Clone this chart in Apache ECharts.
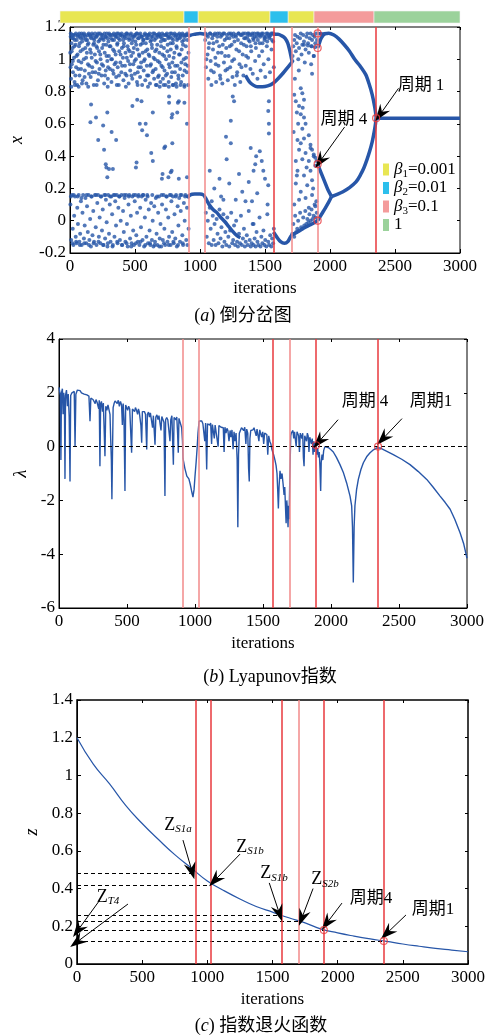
<!DOCTYPE html>
<html>
<head>
<meta charset="utf-8">
<script src="https://cdn.jsdelivr.net/npm/echarts@6/dist/echarts.min.js"></script>
<style>
  html, body { margin: 0; padding: 0; background: #fff; }
  #chart { width: 488px; height: 1035px; }
</style>
</head>
<body>
<div id="chart"></div>
<script>
// ---------- data (a) bifurcation ----------
const xTicks = [0, 500, 1000, 1500, 2000, 2500, 3000];

// annealing stages shown in the top colour bar: [start, end]
const stageB1 = [[0, 930], [1035, 1575], [1710, 1905]];
const stageB2 = [[930, 1035], [1575, 1710]];
const stageB3 = [[1905, 2355]];
const stageOne = [[2355, 3000]];

const upperA = [[2,1.04],[5,1.14],[8,0.88],[11,1.1],[14,0.97],[17,1.15],[20,1.07],[23,0.92],[27,1.13],[31,1.01],[35,0.86],[39,1.15],[43,1.09],[47,0.95],
  [52,1.12],[55,0.84],[58,1.03],[62,1.15],[66,0.99],[69,1.08],[73,0.9],[77,1.14],[81,1.05],[85,0.94],[89,1.16],[93,1.11],[97,0.87],
  [102,1.13],[106,1.0],[110,1.15],[114,0.93],[118,1.07],[122,1.12],[126,0.85],[130,1.04],[134,1.15],[138,0.97],[142,1.1],[146,0.91],
  [151,1.15],[155,1.06],[159,0.89],[163,1.13],[167,1.01],[171,0.95],[175,1.15],[179,1.09],[183,0.84],[187,1.12],[191,1.03],[195,0.92],[199,1.14],
  [203,1.08],[207,0.98],[211,1.15],[215,0.87],[219,1.11],[223,1.05],[227,0.94],[231,1.16],[235,1.0],[239,1.13],[243,0.9],[247,1.07],
  [251,1.15],[255,0.96],[259,1.12],[263,0.85],[267,1.04],[271,1.14],[275,0.93],[279,1.09],[283,1.16],[287,0.99],[291,0.88],[295,1.11],[299,1.02],
  [303,1.15],[307,0.94],[311,1.08],[315,1.13],[319,0.86],[323,1.0],[327,1.15],[331,1.06],[335,0.91],[339,1.12],[343,0.97],[347,1.15],
  [351,1.03],[355,0.89],[359,1.14],[363,1.09],[367,0.95],[371,1.16],[375,0.84],[379,1.05],[383,1.12],[387,0.98],[391,1.15],[395,0.92],[399,1.07],
  [403,1.14],[407,1.01],[411,0.87],[415,1.1],[419,1.15],[423,0.96],[427,1.04],[431,1.13],[435,0.9],[439,1.16],[443,1.08],[447,0.99],
  [451,0.85],[455,1.12],[459,1.05],[463,0.93],[467,1.15],[471,1.02],[475,1.1],[479,0.88],[483,1.14],[487,0.97],[491,1.07],[495,1.15],[499,0.91],
  [503,1.11],[507,1.0],[511,1.16],[515,0.86],[519,1.06],[523,1.13],[527,0.95],[531,1.03],[535,1.15],[539,0.89],[543,1.09],[547,0.98],
  [551,1.14],[555,0.84],[559,1.04],[563,1.12],[567,0.93],[571,1.15],[575,1.0],[579,0.87],[583,1.1],[587,1.15],[591,0.96],[595,1.06],[599,1.13],
  [603,0.9],[607,1.15],[611,1.02],[615,0.85],[619,1.11],[623,0.97],[627,1.14],[631,1.07],[635,0.92],[639,1.16],[643,1.01],[647,0.88],
  [651,1.12],[655,1.05],[659,0.94],[663,1.15],[667,0.84],[671,1.09],[675,0.99],[679,1.14],[683,0.9],[687,1.04],[691,1.15],[695,0.86],[699,1.11],
  [703,0.96],[707,1.13],[711,1.03],[715,0.88],[719,1.15],[723,1.07],[727,0.93],[731,1.12],[735,0.84],[739,1.0],[743,1.15],[747,0.91],
  [751,1.09],[755,1.14],[759,0.86],[763,1.02],[767,0.95],[771,1.16],[775,1.06],[779,0.89],[783,1.13],[787,0.98],[791,1.1],[795,0.84],[799,1.15],
  [803,1.04],[807,0.92],[811,1.14],[815,0.85],[819,1.08],[823,1.12],[827,0.96],[831,1.15],[835,0.88],[839,1.03],[843,1.13],[847,0.94],
  [851,1.15],[855,0.86],[859,1.06],[863,1.11],[867,0.9],[871,1.15],[875,1.0],[879,0.84],[883,1.14],[887,0.97],[891,1.08],[895,1.15],[899,0.92],[903,1.12],[907,1.15],[911,1.04]];

const upperA2 = [[4,0.95],[13,1.05],[22,0.99],[33,1.08],[41,0.9],[50,1.02],[64,0.94],[75,1.1],[87,0.98],[99,1.06],[112,0.89],[124,1.01],[136,1.09],[148,0.96],
  [161,1.04],[173,0.92],[185,1.1],[197,0.99],[209,1.07],[221,0.91],[233,1.03],[245,0.97],[257,1.09],[269,0.9],[281,1.02],[293,0.95],[305,1.08],[317,1.0],
  [329,0.93],[341,1.05],[353,0.98],[365,1.1],[377,0.9],[389,1.03],[401,0.96],[413,1.08],[425,0.91],[437,1.01],[449,1.06],[461,0.97],[473,0.9],[485,1.04],
  [497,0.99],[509,1.09],[521,0.92],[533,1.02],[545,0.95],[557,1.1],[569,0.99],[581,1.05],[593,0.9],[605,1.03],[617,0.96],[629,1.09],[641,0.93],[653,1.0],
  [665,1.06],[677,0.89],[689,0.98],[701,1.08],[713,0.95],[725,1.02],[737,0.9],[749,1.05],[761,0.97],[773,1.1],[785,0.92],[797,1.01],[809,0.96],[821,1.07],
  [833,0.9],[845,1.03],[857,0.98],[869,1.09],[881,0.93],[893,1.01],[905,0.96],
  [10,0.83],[38,0.84],[67,0.83],[92,0.85],[140,0.83],[205,0.84],[290,0.83],[360,0.84],[430,0.83],[520,0.84],[600,0.83],[660,0.84],[690,0.83],[720,0.84],
  [760,0.83],[790,0.84],[820,0.83],[850,0.84],[880,0.83],[908,0.84]];

const topA = [[6,1.16],[16,1.13],[25,1.15],[36,1.12],[45,1.16],[60,1.14],[71,1.16],[83,1.13],[95,1.15],[108,1.16],[120,1.14],[132,1.12],[144,1.16],[157,1.14],
  [169,1.16],[181,1.13],[193,1.16],[205,1.14],[217,1.16],[229,1.12],[241,1.15],[253,1.13],[265,1.16],[277,1.14],[289,1.13],[301,1.16],[313,1.15],[325,1.12],
  [337,1.16],[349,1.14],[361,1.16],[373,1.13],[385,1.15],[397,1.16],[409,1.12],[421,1.14],[433,1.16],[445,1.15],[457,1.13],[469,1.16],[481,1.12],[493,1.14],
  [505,1.15],[517,1.16],[529,1.13],[541,1.16],[553,1.14],[565,1.12],[577,1.16],[589,1.13],[601,1.15],[613,1.16],[625,1.12],[637,1.14],[649,1.16],[661,1.13],
  [673,1.15],[685,1.16],[697,1.14],[709,1.16],[721,1.12],[733,1.15],[745,1.16],[757,1.13],[769,1.14],[781,1.16],[793,1.12],[805,1.16],[817,1.15],[829,1.13],
  [841,1.16],[853,1.14],[865,1.16],[877,1.12],[889,1.15],[901,1.16]];

const lowerA = [[3,0.1],[9,-0.12],[15,0.16],[21,-0.05],[26,-0.15],[32,0.03],[38,0.15],[44,-0.1],[50,-0.14],[56,0.08],[61,-0.02],[67,0.16],[72,-0.13],[78,-0.08],
  [84,0.12],[90,-0.15],[96,0.05],[101,0.16],[107,-0.11],[113,-0.03],[119,0.14],[125,-0.14],[131,0.09],[137,-0.07],[143,0.16],[149,-0.12],[155,0.01],[161,-0.16],
  [167,0.15],[173,-0.09],[179,0.06],[185,-0.13],[192,0.16],[198,-0.04],[204,-0.15],[210,0.11],[216,0.16],[222,-0.1],[228,0.02],[234,-0.14],[240,0.15],[246,-0.06],
  [252,0.07],[258,-0.15],[264,0.16],[270,-0.11],[276,0.13],[282,-0.01],[288,-0.16],[294,0.16],[300,-0.08],[306,0.1],[312,-0.13],[318,0.15],[324,0.04],[330,-0.15],
  [336,0.16],[342,-0.1],[348,0.12],[354,-0.03],[360,0.16],[366,-0.14],[372,0.08],[378,0.15],[384,-0.12],[390,0.0],[396,0.16],[402,-0.15],[408,0.06],[414,-0.07],
  [420,0.14],[426,-0.13],[432,0.16],[438,-0.02],[444,-0.16],[450,0.1],[456,0.16],[462,-0.11],[468,0.03],[474,-0.14],[480,0.15],[486,-0.06],[492,-0.15],[498,0.12],
  [504,0.16],[510,-0.09],[516,0.05],[522,-0.13],[528,0.16],[534,-0.15],[540,0.08],[546,-0.04],[552,0.15],[558,-0.12],[564,0.16],[570,-0.16],[576,0.02],[582,0.13],
  [588,-0.1],[594,0.16],[600,-0.14],[606,0.07],[612,-0.06],[618,-0.15],[624,0.11],[630,-0.12],[636,0.0],[642,-0.16],[648,0.09],[654,-0.13],[660,0.14],[666,-0.08],
  [672,-0.15],[678,0.05],[684,0.15],[690,-0.11],[696,-0.02],[702,-0.16],[708,0.1],[714,-0.12],[720,0.16],[726,-0.05],[732,-0.15],[738,0.07],[744,0.15],[750,-0.13],
  [756,0.02],[762,-0.1],[768,0.16],[774,-0.15],[780,0.12],[786,-0.07],[792,0.15],[798,-0.14],[804,0.04],[810,-0.11],[816,0.16],[822,-0.16],[828,0.09],[834,-0.03],
  [840,0.14],[846,-0.13],[852,0.06],[858,0.16],[864,-0.09],[870,-0.15],[876,0.11],[882,0.0],[888,0.16],[894,-0.12],[900,0.08],[906,0.15],[912,-0.05]];

const lowerA2 = [[7,0.15],[19,-0.14],[29,0.16],[47,-0.13],[58,0.15],[76,-0.15],[88,0.14],[110,-0.14],[128,0.16],[146,-0.15],[164,0.15],[182,-0.14],[200,0.16],
  [219,-0.13],[237,0.15],[255,-0.15],[273,0.16],[291,-0.14],[309,0.15],[327,-0.16],[345,0.16],[363,-0.13],[381,0.15],[399,-0.15],[417,0.16],[435,-0.14],
  [453,0.15],[471,-0.16],[489,0.16],[507,-0.14],[525,0.15],[543,-0.13],[561,0.16],[579,-0.15],[597,0.15],[615,-0.14],[633,0.16],[651,-0.15],[669,0.15],
  [687,-0.16],[705,0.16],[723,-0.14],[741,0.15],[759,-0.15],[777,0.16],[795,-0.13],[813,0.15],[831,-0.15],[849,0.16],[867,-0.14],[885,0.15],[903,-0.15]];

const midA = [[162,0.72],[287,0.67],[157,0.61],[200,0.64],[255,0.59],[217,0.5],[320,0.55],[355,0.5],[262,0.44],[280,0.33],[330,0.32],[287,0.27],[275,0.35],
  [300,0.32],[480,0.71],[517,0.75],[550,0.74],[537,0.6],[582,0.6],[555,0.56],[592,0.53],[637,0.67],[625,0.42],[637,0.37],[512,0.36],[507,0.33],[762,0.77],
  [762,0.73],[787,0.66],[782,0.64],[830,0.73],[787,0.48],[732,0.46],[782,0.31],[707,0.26],[757,0.27],[837,0.26],[900,0.27],[712,0.29],[775,0.3],[725,0.45],
  [900,0.6],[880,0.73],[837,0.74],[825,0.67]];

const upperC = [[1040,1.12],[1046,0.95],[1052,1.15],[1058,1.03],[1064,0.88],[1070,1.1],[1076,1.16],[1082,0.99],[1088,0.84],[1094,1.13],[1100,1.06],[1106,0.92],
  [1112,1.15],[1118,1.01],[1124,0.86],[1130,1.11],[1136,1.16],[1142,0.96],[1148,1.08],[1154,0.9],[1160,1.14],[1166,1.04],[1172,0.85],[1178,1.16],[1184,0.98],
  [1190,1.12],[1196,0.93],[1202,1.07],[1208,1.15],[1214,0.87],[1220,1.02],[1226,1.13],[1232,0.95],[1238,1.16],[1244,1.09],[1250,0.89],[1256,1.14],[1262,1.0],
  [1268,0.84],[1274,1.15],[1280,1.06],[1286,0.92],[1292,1.12],[1298,1.16],[1304,0.97],[1310,0.86],[1316,1.1],[1322,1.15],[1328,1.03],[1334,0.9],[1340,1.13],
  [1346,1.16],[1352,0.96],[1358,1.08],[1364,1.14],[1370,1.01],[1376,1.16],[1382,1.11],[1388,0.94],[1394,1.05],[1400,1.15],[1406,0.91],[1412,1.12],[1418,1.16],
  [1424,0.99],[1430,1.07],[1436,1.14],[1442,0.88],[1448,1.16],[1454,1.02],[1460,1.1],[1466,0.93],[1472,1.15],[1478,1.05],[1484,1.16],[1490,0.97],[1496,1.12],
  [1502,0.89],[1508,1.14],[1514,1.08],[1520,1.16],[1526,1.0],[1532,1.13],[1538,0.92],[1544,1.15],[1550,1.06],[1556,1.16],[1562,1.11],[1568,0.95],
  [1043,1.16],[1061,1.14],[1079,1.16],[1097,1.15],[1115,1.16],[1133,1.14],[1151,1.16],[1169,1.15],[1187,1.16],[1205,1.13],[1223,1.16],[1241,1.15],[1259,1.16],
  [1277,1.14],[1295,1.16],[1313,1.15],[1331,1.16],[1349,1.13],[1367,1.16],[1385,1.15],[1403,1.16],[1421,1.14],[1439,1.16],[1457,1.15],[1475,1.16],[1493,1.14],
  [1511,1.16],[1529,1.15],[1547,1.16],[1565,1.16],
  [1049,1.0],[1067,1.07],[1085,0.93],[1103,1.1],[1121,0.97],[1139,1.04],[1157,0.88],[1175,1.09],[1193,1.02],[1211,0.94],[1229,1.08],[1247,0.99],[1265,1.11],
  [1283,0.9],[1301,1.05],[1319,0.95],[1337,1.09],[1355,1.02],[1373,1.12],[1391,1.08],[1409,1.13],[1427,1.1],[1445,1.12],[1463,1.14],[1481,1.1],[1499,1.13],
  [1517,1.11],[1535,1.14],[1553,1.12]];

const lowerC = [[1045,0.05],[1052,-0.1],[1060,0.0],[1068,-0.14],[1075,0.08],[1082,-0.05],[1090,-0.15],[1098,0.03],[1105,-0.12],[1112,-0.02],[1120,-0.15],
  [1128,0.01],[1135,-0.08],[1142,-0.14],[1150,0.07],[1158,-0.11],[1165,-0.04],[1172,-0.16],[1180,0.04],[1188,-0.13],[1195,-0.07],[1202,-0.15],[1210,0.02],
  [1218,-0.1],[1225,-0.16],[1232,-0.06],[1240,0.05],[1248,-0.14],[1255,-0.12],[1262,-0.03],[1270,-0.15],[1278,0.0],[1285,-0.13],[1292,-0.16],[1300,-0.08],
  [1308,-0.14],[1315,0.03],[1322,-0.15],[1330,-0.11],[1338,-0.05],[1345,-0.16],[1352,-0.13],[1360,-0.09],[1368,-0.15],[1375,0.06],[1382,-0.12],[1390,-0.16],
  [1398,-0.14],[1405,-0.02],[1412,-0.15],[1420,-0.11],[1428,-0.16],[1435,-0.07],[1442,-0.13],[1450,-0.15],[1458,0.02],[1465,-0.16],[1472,-0.1],[1480,-0.14],
  [1488,-0.06],[1495,-0.15],[1502,-0.12],[1510,-0.16],[1518,0.04],[1525,-0.13],[1532,-0.15],[1540,-0.09],[1548,-0.16],[1555,-0.11],[1562,-0.14],[1568,-0.05]];

const midC = [[1075,0.31],[1237,0.62],[1200,0.52],[1237,0.48],[1205,0.38],[1225,0.23],[1162,0.15],[1275,0.13],[1325,0.18],[1350,0.12],[1375,0.24],[1425,0.35],
  [1432,0.4],[1412,0.31],[1475,0.37],[1487,0.31],[1500,0.26],[1525,0.68],[1530,0.6],[1530,0.54],[1525,0.22],[1412,-0.02],[1110,0.2],[1150,0.26],[1300,0.29],
  [1390,0.45],[1460,0.43],[1400,0.12],[1440,0.17],[1520,0.1],[1180,0.13],[1090,0.12],[1252,0.77],[1262,0.74],[1530,0.74]];

const chaosD = [[1712,1.02],[1718,1.08],[1725,1.12],[1731,1.15],[1737,1.05],[1744,1.1],[1750,1.14],[1756,1.0],[1762,1.07],[1769,1.13],[1775,1.16],[1781,1.03],
  [1787,1.09],[1794,1.15],[1800,1.11],[1806,0.98],[1812,1.06],[1819,1.14],[1825,1.16],[1831,1.1],[1837,1.04],[1844,1.13],[1850,1.16],[1856,1.08],[1862,1.12],
  [1869,1.15],[1875,1.02],[1881,1.14],[1887,1.1],[1894,1.16],[1900,1.12],[1855,0.97],[1862,0.91],[1875,1.02],[1800,1.09],[1830,1.085],[1860,1.08],[1885,1.075],
  [1725,0.78],[1737,0.74],[1775,0.82],[1787,0.79],[1800,0.75],[1762,0.71],[1745,0.67],[1775,0.66],[1800,0.64],[1755,0.6],[1787,0.57],[1812,0.6],[1750,0.5],
  [1775,0.48],[1800,0.51],[1837,0.53],[1762,0.44],[1812,0.42],[1850,0.45],[1737,0.37],[1787,0.38],[1837,0.37],[1875,0.4],[1750,0.31],[1800,0.28],[1850,0.31],
  [1887,0.34],[1737,0.23],[1775,0.18],[1825,0.22],[1862,0.25],[1762,0.13],[1812,0.14],[1862,0.16],[1725,0.1],[1837,0.08],[1887,0.09],[1730,0.88],[1760,0.93],
  [1850,0.47],[1862,0.44],[1875,0.41],[1887,0.39],[1897,0.37],[1720,0.55],[1745,0.28],[1790,0.7],[1820,0.33],[1870,0.2],[1895,0.12],
  [1710,-0.08],[1718,-0.02],[1725,-0.1],[1732,0.03],[1740,-0.07],[1748,-0.05],[1755,0.0],[1762,-0.06],[1770,0.05],[1778,-0.04],[1786,-0.05],[1794,0.02],
  [1802,-0.03],[1810,0.06],[1818,-0.02],[1826,0.01],[1834,-0.01],[1842,0.04],[1850,0.0],[1858,0.07],[1866,0.01],[1874,0.03],[1882,0.1],[1890,0.02],[1898,0.05]];

// continuous branches of panel (a)
const stableUpperB = [[905,1.14],[930,1.15],[960,1.155],[1000,1.16],[1038,1.155]];
const stableLowerB = [[903,0.14],[925,0.16],[960,0.165],[1000,0.165],[1025,0.16],[1040,0.145]];
const arcLowerC = [[1040,0.145],[1070,0.1],[1100,0.07],[1130,0.05],[1160,0.02],[1190,-0.005],[1220,-0.035],[1250,-0.065],[1280,-0.09],[1310,-0.105]];
const uCurveC = [[1350,0.9],[1380,0.86],[1410,0.84],[1440,0.83],[1480,0.83],[1520,0.835],[1560,0.85],[1600,0.88],[1640,0.915],[1675,0.95],[1705,0.98],[1715,0.995]];
const upperCurveC = [[1560,1.155],[1600,1.155],[1630,1.145],[1655,1.13],[1675,1.1],[1692,1.05],[1705,1.0],[1712,0.98]];
const dipCurve = [[1565,-0.07],[1590,-0.1],[1620,-0.13],[1650,-0.14],[1675,-0.13],[1705,-0.09],[1750,-0.07],[1800,-0.045],[1850,-0.025],[1905,0.0]];
const branchTop = [[1905,1.16],[1930,1.158],[1955,1.156]];
const branchSecond = [[1905,1.07],[1918,1.1],[1932,1.13],[1948,1.15],[1960,1.158]];
const upperMain = [[1955,1.158],[1990,1.162],[2030,1.15],[2070,1.125],[2110,1.09],[2150,1.05],[2190,1.0],[2230,0.96],[2275,0.905],[2300,0.85],[2325,0.78],[2345,0.7],[2355,0.64]];
const branch035 = [[1905,0.35],[1930,0.3],[1955,0.25],[1985,0.19],[2012,0.15]];
const branch000 = [[1905,0.0],[1935,0.04],[1965,0.08],[1990,0.115],[2012,0.15]];
const lowerMain = [[2012,0.15],[2060,0.165],[2100,0.18],[2150,0.205],[2200,0.24],[2235,0.285],[2262,0.33],[2285,0.38],[2305,0.43],[2325,0.49],[2340,0.55],[2350,0.6],[2355,0.64]];
const fixedPoint = [[2355,0.635],[3000,0.635]];
const periodPtsA = [[1905,1.16],[1905,1.07],[1905,0.35],[1905,0.0],[2355,0.635]];
const redLinesA = [915, 1035, 1570, 1705, 1905, 2355];

// ---------- data (b) Lyapunov exponent ----------
const lyap = [[0,2.2],[5,2.25],[10,1.9],[14,-0.5],[18,2.0],[25,2.15],[30,1.2],[35,2.0],[40,1.6],[44,-1.2],[48,1.9],[55,2.1],[62,1.5],[68,1.95],[75,1.1],[81,-1.3],
  [86,1.9],[95,2.0],[105,1.95],[112,2.05],[118,0.0],[124,1.95],[135,2.1],[145,2.05],[155,2.08],[165,2.0],[175,2.02],[185,1.95],[195,1.9],[205,1.92],[212,1.85],
  [220,1.88],[228,0.94],[234,1.8],[242,1.85],[250,1.75],[258,1.8],[266,1.6],[272,1.75],[280,1.65],[286,1.7],[292,1.4],[296,1.72],[301,-0.73],[306,1.6],[312,1.68],
  [320,1.3],[326,1.62],[332,1.55],[338,-0.36],[344,1.5],[352,1.35],[360,1.55],[368,1.5],[375,1.2],[380,0.3],[385,-0.5],[389,-1.96],[394,0.0],[398,1.45],[405,1.6],
  [412,1.7],[420,1.65],[428,1.6],[436,1.72],[444,1.5],[452,1.68],[460,1.55],[466,0.8],[472,1.6],[478,1.0],[485,-1.65],[490,1.55],[498,1.5],[505,1.35],[512,1.5],
  [520,1.4],[527,1.45],[534,-0.23],[540,1.4],[548,1.38],[556,1.3],[562,1.45],[570,1.35],[578,1.2],[584,1.4],[590,1.3],[596,1.35],[602,0.8],[608,0.14],[613,1.3],
  [620,1.25],[628,1.3],[636,1.2],[645,-0.11],[650,1.2],[658,1.28],[665,1.1],[672,1.25],[680,1.2],[688,0.7],[694,1.15],[700,1.2],[706,0.07],[712,1.1],[720,1.18],
  [728,1.0],[735,1.15],[742,1.1],[750,0.6],[756,1.12],[764,1.05],[772,0.9],[779,-1.84],[784,1.0],[792,1.08],[800,1.0],[808,1.05],[816,0.2],[822,1.0],[830,1.15],
  [836,1.1],[841,-0.67],[846,1.08],[852,1.12],[860,1.0],[866,1.1],[872,0.5],[877,-0.23],[882,1.05],[888,1.0],[895,1.02],[902,0.7],[908,0.2],[912,-0.45],
  [925,-0.8],[940,-1.1],[955,-1.2],[965,-1.4],[975,-1.65],[985,-1.88],[993,-1.6],[1000,-1.1],[1008,-0.6],[1015,-0.1],[1022,0.5],[1030,0.95],
  [1035,0.98],[1042,0.9],[1050,0.95],[1058,0.85],[1065,0.92],[1072,0.2],[1078,0.88],[1086,-0.85],[1092,0.85],[1100,0.9],[1108,0.8],[1115,0.88],[1122,0.1],
  [1128,0.82],[1135,0.85],[1142,0.3],[1148,0.8],[1155,0.75],[1162,0.82],[1170,0.0],[1176,0.78],[1184,0.8],[1192,0.72],[1200,0.78],[1208,0.7],[1214,-0.2],
  [1220,0.72],[1228,0.5],[1235,0.68],[1242,0.6],[1250,0.2],[1258,0.6],[1265,0.35],[1272,0.62],[1280,-0.1],[1287,0.55],[1295,0.2],[1302,0.5],[1310,-0.5],
  [1315,-3.0],[1320,-0.3],[1326,0.5],[1334,0.55],[1342,0.7],[1350,0.75],[1358,0.6],[1366,0.72],[1374,0.1],[1380,0.65],[1388,0.5],[1394,-0.8],[1399,-1.3],
  [1404,0.3],[1410,0.6],[1418,0.65],[1426,0.62],[1434,0.7],[1442,0.68],[1450,0.4],[1456,0.65],[1464,0.7],[1470,0.2],[1476,0.62],[1484,0.6],[1490,0.35],
  [1498,0.55],[1505,0.1],[1512,0.5],[1520,0.55],[1528,0.45],[1535,-0.3],[1542,0.4],[1550,0.2],[1558,0.1],[1565,-0.1],[1572,-0.05],
  [1578,-0.3],[1588,-0.5],[1596,-0.7],[1603,-1.0],[1608,-1.6],[1613,-2.3],[1618,-1.5],[1625,-0.9],[1632,-1.2],[1640,-1.0],[1648,-1.4],[1655,-1.8],[1660,-1.5],
  [1665,-2.2],[1670,-2.85],[1675,-2.0],[1680,-2.4],[1684,-3.0],[1688,-2.2],[1692,-2.7],[1696,-1.5],[1700,-0.5],[1704,0.4],
  [1708,0.5],[1714,0.45],[1720,0.6],[1726,0.3],[1732,0.55],[1738,0.5],[1744,0.0],[1750,0.55],[1756,0.6],[1762,0.4],[1768,-0.2],[1774,0.5],[1780,0.55],
  [1786,0.3],[1792,0.5],[1797,-0.4],[1802,-0.73],[1807,0.4],[1814,0.45],[1820,0.2],[1826,0.5],[1832,0.4],[1838,-0.2],[1844,0.35],[1850,0.3],[1856,0.1],
  [1862,0.3],[1868,-0.3],[1872,0.2],[1878,-0.2],[1884,0.15],[1890,0.05],[1896,-0.3],[1902,-0.05],[1908,-0.4],[1914,-0.2],[1919,-0.8],[1924,-1.65],[1928,-0.6],
  [1934,-0.3],[1940,-0.5],[1946,-0.15],[1955,0.0],[1968,0.0],
  [1985,-0.05],[2000,-0.12],[2017,-0.2],[2040,-0.4],[2066,-0.67],[2090,-0.95],[2115,-1.35],[2140,-1.84],[2152,-2.2],[2158,-3.0],[2164,-5.05],[2170,-3.0],
  [2176,-2.2],[2188,-1.6],[2201,-1.22],[2220,-0.85],[2238,-0.6],[2262,-0.38],[2287,-0.23],[2312,-0.12],[2336,-0.05],[2346,0.0],[2360,-0.05],[2400,-0.15],
  [2458,-0.3],[2520,-0.47],[2581,-0.67],[2640,-0.92],[2704,-1.22],[2750,-1.5],[2802,-1.84],[2840,-2.08],[2876,-2.33],[2910,-2.7],[2949,-3.2],[2975,-3.6],[3000,-4.15]];
const periodPtsB = [[1890,0.05],[2346,0.0]];
const redLinesB = [912, 1029, 1571, 1699, 1890, 2346];

// ---------- data (c) exponential annealing ----------
const zCurve = [[0,1.2],[125,1.06],[250,0.955],[375,0.84],[500,0.745],[625,0.66],[750,0.58],[875,0.51],[1000,0.44],[1125,0.39],[1250,0.345],[1375,0.305],
  [1500,0.275],[1625,0.245],[1750,0.218],[1875,0.185],[2000,0.165],[2125,0.148],[2250,0.133],[2375,0.12],[2500,0.106],[2625,0.094],[2750,0.083],[2875,0.074],[3000,0.065]];
const zMarks = [[913,0.48],[1029,0.42],[1572,0.26],[1703,0.228],[1894,0.18],[2354,0.122]];
const periodPtsC = [[1894,0.18],[2354,0.122]];
const redLinesC = [913, 1029, 1572, 1703, 1894, 2354];

// ---------- styling ----------
const serif = "'Liberation Serif','Noto Sans CJK SC',serif";
const blue = '#2756a8';
const red = '#e8383d';
const pink = '#f28a8a';
const arrowHead = 'path://M6,0 L12,18 L6,12 L0,18 Z';

const subRich = {
  z: { fontFamily: serif, fontSize: 18, color: '#000' },
  s: { fontFamily: serif, fontSize: 11, fontStyle: 'italic', color: '#000', padding: [9, 0, 0, 0] },
  t: { fontFamily: serif, fontSize: 17, color: '#000' }
};

function xAxisFor(grid) {
  return {
    type: 'value', gridIndex: grid, min: 0, max: 3000, interval: 500,
    axisLine: { onZero: false, lineStyle: { color: '#000', width: 1 } },
    axisTick: { inside: true, length: 4, lineStyle: { color: '#000' } },
    axisLabel: { color: '#000', fontFamily: serif, fontSize: 17, margin: 5, formatter: function (v) { return String(v); } },
    splitLine: { show: false },
    name: 'iterations', nameLocation: 'middle', nameGap: 27,
    nameTextStyle: { color: '#000', fontFamily: serif, fontSize: 17 }
  };
}
function yAxisFor(grid, min, max, step, name, gap) {
  return {
    type: 'value', gridIndex: grid, min: min, max: max, interval: step,
    axisLine: { onZero: false, lineStyle: { color: '#000', width: 1 } },
    axisTick: { inside: true, length: 4, lineStyle: { color: '#000' } },
    axisLabel: { color: '#000', fontFamily: serif, fontSize: 17, margin: 4 },
    splitLine: { show: false },
    name: name, nameLocation: 'middle', nameGap: gap, nameRotate: 90,
    nameTextStyle: { color: '#000', fontFamily: serif, fontSize: 18, fontStyle: 'italic' }
  };
}
// mirrored tick-only axes on the top / right of each box
function boxX(grid) {
  return {
    type: 'value', gridIndex: grid, min: 0, max: 3000, interval: 500, position: 'top',
    axisLine: { show: false, onZero: false }, axisLabel: { show: false }, splitLine: { show: false },
    axisTick: { inside: true, length: 3, lineStyle: { color: '#000' } }
  };
}
function boxY(grid, min, max, step) {
  return {
    type: 'value', gridIndex: grid, min: min, max: max, interval: step, position: 'right',
    axisLine: { show: false, onZero: false }, axisLabel: { show: false }, splitLine: { show: false },
    axisTick: { inside: true, length: 3, lineStyle: { color: '#000' } }
  };
}
function redLine(v, c) {
  return { xAxis: v, lineStyle: { color: c, width: 1.5, type: 'solid' } };
}
function arrow(from, to) {
  return [{ coord: from, symbol: 'none' }, { coord: to, symbol: arrowHead, symbolSize: [12, 17] }];
}
function note(pos, text) {
  return {
    coord: pos, symbol: 'circle', symbolSize: 1, itemStyle: { color: 'rgba(0,0,0,0)' },
    label: { show: true, position: 'inside', formatter: text, rich: subRich, color: '#000' }
  };
}
function circles(grid, data) {
  return {
    type: 'scatter', xAxisIndex: grid, yAxisIndex: grid, data: data, symbol: 'circle', symbolSize: 7,
    itemStyle: { color: 'rgba(0,0,0,0)', borderColor: red, borderWidth: 1.2 }, z: 5
  };
}
function branch(data) {
  return {
    type: 'line', xAxisIndex: 1, yAxisIndex: 1, data: data, smooth: 0.3, showSymbol: false,
    lineStyle: { color: blue, width: 3.5 }
  };
}
function stage(name, color, data) {
  return {
    name: name, type: 'custom', xAxisIndex: 0, yAxisIndex: 0, data: data,
    itemStyle: { color: color }, encode: { x: [0, 1] },
    renderItem: function (params, api) {
      const p0 = api.coord([api.value(0), 1]);
      const p1 = api.coord([api.value(1), 0]);
      return {
        type: 'rect',
        shape: { x: p0[0], y: p0[1], width: p1[0] - p0[0], height: p1[1] - p0[1] },
        style: { fill: api.visual('color'), stroke: '#f4f4f4', lineWidth: 0.6 }
      };
    }
  };
}

const legendText = {
  b1: '{b|β}{s|1}{n|=0.001}',
  b2: '{b|β}{s|2}{n|=0.01}',
  b3: '{b|β}{s|3}{n|=0.1}',
  one: '{n|1}'
};

const chart = echarts.init(document.getElementById('chart'));

const option = {
  animation: false,
  backgroundColor: '#fff',
  title: [
    { text: '{p|(}{i|a}{p|) 倒分岔图}', left: 238, top: 302, textAlign: 'center' },
    { text: '{p|(}{i|b}{p|) Lyapunov指数}', left: 265, top: 663, textAlign: 'center' },
    { text: '{p|(}{i|c}{p|) 指数退火函数}', left: 256, top: 1012, textAlign: 'center' }
  ].map(function (t) {
    t.textStyle = { fontWeight: 'normal', rich: {
      p: { fontFamily: serif, fontSize: 18, fontWeight: 'normal', color: '#000' },
      i: { fontFamily: serif, fontSize: 18, fontWeight: 'normal', fontStyle: 'italic', color: '#000' }
    } };
    return t;
  }),
  legend: {
    data: ['b1', 'b2', 'b3', 'one'], orient: 'vertical', left: 378, top: 156,
    icon: 'rect', itemWidth: 6, itemHeight: 12, itemGap: 0, selectedMode: false,
    formatter: function (n) { return legendText[n]; },
    textStyle: { rich: {
      b: { fontFamily: serif, fontSize: 17, fontStyle: 'italic', color: '#000' },
      s: { fontFamily: serif, fontSize: 11, color: '#000', padding: [9, 0, 0, 0] },
      n: { fontFamily: serif, fontSize: 17, color: '#000' }
    } }
  },
  grid: [
    { left: 60, right: 28, top: 11, height: 12 },
    { left: 60, right: 28, top: 27, height: 226, show: true, borderColor: '#000', borderWidth: 1 },
    { left: 59, right: 21, top: 339, height: 269, show: true, borderColor: '#000', borderWidth: 1 },
    { left: 77, right: 20, top: 700, height: 264, show: true, borderColor: '#000', borderWidth: 1.5 }
  ],
  xAxis: [
    { type: 'value', gridIndex: 0, min: 0, max: 3000, show: false },
    xAxisFor(1), xAxisFor(2), xAxisFor(3),
    boxX(1), boxX(2), boxX(3)
  ],
  yAxis: [
    { type: 'value', gridIndex: 0, min: 0, max: 1, show: false },
    yAxisFor(1, -0.2, 1.2, 0.2, 'x', 44),
    yAxisFor(2, -6, 4, 2, 'λ', 26),
    yAxisFor(3, 0, 1.4, 0.2, 'z', 34),
    boxY(1, -0.2, 1.2, 0.2), boxY(2, -6, 4, 2), boxY(3, 0, 1.4, 0.2)
  ],
  series: [
    stage('b1', '#e8e653', stageB1),
    stage('b2', '#2cbfec', stageB2),
    stage('b3', '#f49b9b', stageB3),
    stage('one', '#9bd29b', stageOne),

    // (a)
    {
      type: 'scatter', xAxisIndex: 1, yAxisIndex: 1, symbolSize: 4,
      itemStyle: { color: blue },
      data: [].concat(upperA, upperA2, topA, lowerA, lowerA2, midA, upperC, lowerC, midC, chaosD),
      markLine: {
        silent: true, symbol: 'none', label: { show: false },
        data: [
          redLine(redLinesA[0], pink), redLine(redLinesA[1], pink), redLine(redLinesA[2], red),
          redLine(redLinesA[3], pink), redLine(redLinesA[4], pink), redLine(redLinesA[5], red),
          arrow([2527, 0.82], [2387, 0.66]),
          arrow([2112, 0.58], [1925, 0.37])
        ],
        lineStyle: { color: '#000', width: 1, type: 'solid' }
      },
      markPoint: {
        silent: true,
        data: [note([2700, 0.84], '{t|周期 1}'), note([2107, 0.626], '{t|周期 4}')]
      }
    },
    branch(stableUpperB), branch(stableLowerB), branch(arcLowerC), branch(uCurveC), branch(upperCurveC),
    branch(dipCurve), branch(branchTop), branch(branchSecond), branch(upperMain), branch(branch035),
    branch(branch000), branch(lowerMain), branch(fixedPoint),
    circles(1, periodPtsA),

    // (b)
    {
      type: 'line', xAxisIndex: 2, yAxisIndex: 2, data: lyap, showSymbol: false,
      lineStyle: { color: blue, width: 1.4 },
      markLine: {
        silent: true, symbol: 'none', label: { show: false },
        data: [
          { yAxis: 0, lineStyle: { color: '#000', width: 1, type: [4, 3] } },
          redLine(redLinesB[0], pink), redLine(redLinesB[1], pink), redLine(redLinesB[2], red),
          redLine(redLinesB[3], pink), redLine(redLinesB[4], red), redLine(redLinesB[5], red),
          arrow([2052, 1.0], [1912, 0.19]),
          arrow([2522, 1.04], [2383, 0.3])
        ],
        lineStyle: { color: '#000', width: 1, type: 'solid' }
      },
      markPoint: {
        silent: true,
        data: [note([2250, 1.67], '{t|周期 4}'), note([2735, 1.67], '{t|周期1}')]
      }
    },
    circles(2, periodPtsB),

    // (c)
    {
      type: 'line', xAxisIndex: 3, yAxisIndex: 3, data: zCurve, showSymbol: false, smooth: true,
      lineStyle: { color: blue, width: 1.2 },
      markLine: {
        silent: true, symbol: 'none', label: { show: false },
        data: zMarks.map(function (m) {
          return [{ coord: [0, m[1]], lineStyle: { color: '#000', width: 1, type: [4, 3] } }, { coord: [m[0], m[1]] }];
        }).concat([
          redLine(redLinesC[0], red), redLine(redLinesC[1], red), redLine(redLinesC[2], red),
          redLine(redLinesC[3], pink), redLine(redLinesC[4], red), redLine(redLinesC[5], red),
          arrow([813, 0.657], [882, 0.493]),
          arrow([1251, 0.583], [1059, 0.445]),
          arrow([1475, 0.43], [1552, 0.27]),
          arrow([1811, 0.40], [1726, 0.245]),
          arrow([2033, 0.323], [1918, 0.218]),
          arrow([2524, 0.26], [2379, 0.164]),
          arrow([176, 0.34], [8, 0.18]),
          arrow([391, 0.318], [0, 0.117])
        ]),
        lineStyle: { color: '#000', width: 1, type: 'solid' }
      },
      markPoint: {
        silent: true,
        data: [
          note([775, 0.737], '{z|Z}{s|S1a}'),
          note([1327, 0.62], '{z|Z}{s|S1b}'),
          note([1512, 0.48], '{z|Z}{s|S1b}'),
          note([1903, 0.45], '{z|Z}{s|S2b}'),
          note([2256, 0.345], '{t|周期4}'),
          note([2732, 0.29], '{t|周期1}'),
          note([238, 0.355], '{z|Z}{s|T4}')
        ]
      }
    },
    circles(3, periodPtsC)
  ]
};

chart.setOption(option);
window.addEventListener('resize', function () { chart.resize(); });
</script>
</body>
</html>
